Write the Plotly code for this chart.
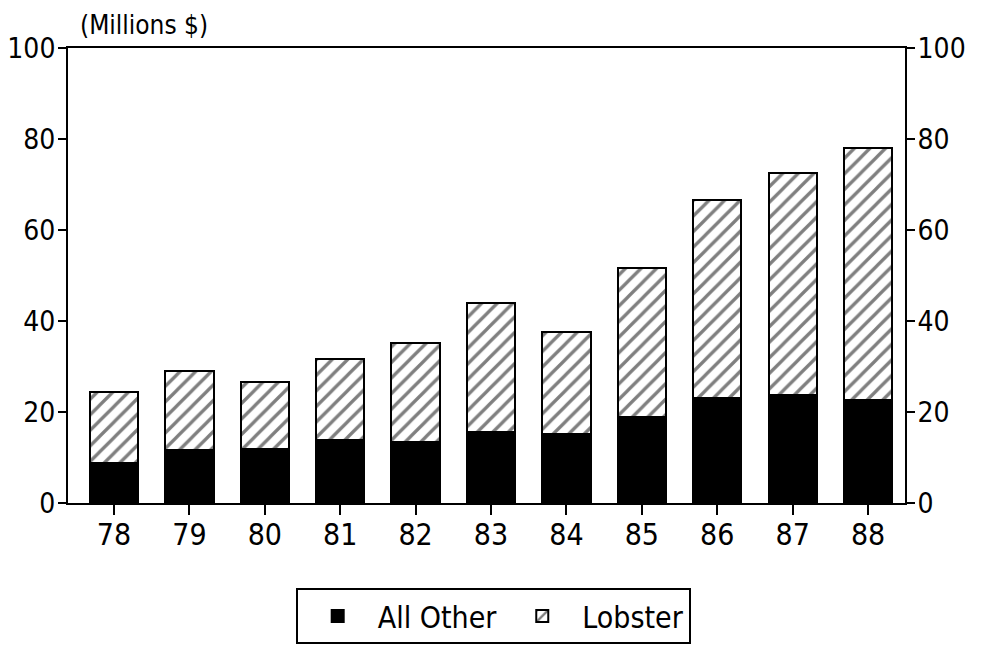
import plotly.graph_objects as go

years = ["78", "79", "80", "81", "82", "83", "84", "85", "86", "87", "88"]
all_other = [8.7, 11.6, 11.9, 13.8, 13.3, 15.6, 15.1, 18.8, 23.0, 23.8, 22.7]
totals = [24.4, 29.0, 26.7, 31.6, 35.2, 44.0, 37.5, 51.6, 66.7, 72.5, 78.0]
lobster = [round(t - o, 1) for t, o in zip(totals, all_other)]
y_ticks = [0, 20, 40, 60, 80, 100]

FONT = "DejaVu Sans Condensed, Liberation Sans Narrow, sans-serif"
xpos = list(range(len(years)))

fig = go.Figure()
fig.add_trace(go.Bar(
    x=xpos, y=all_other, name="All Other", width=0.64,
    marker=dict(color="black", line=dict(color="black", width=2)),
))
fig.add_trace(go.Bar(
    x=xpos, y=lobster, name="Lobster", width=0.64,
    marker=dict(color="white", line=dict(color="black", width=2),
                pattern=dict(shape="/", fgcolor="black", bgcolor="white",
                             size=11, solidity=0.3, fillmode="overlay")),
))
# invisible trace for the right-hand axis
fig.add_trace(go.Scatter(x=[xpos[0]], y=[0], yaxis="y2", mode="markers",
                         marker=dict(opacity=0), showlegend=False, hoverinfo="skip"))

fig.update_layout(
    width=967, height=643,
    margin=dict(l=60, r=70, t=40, b=148, autoexpand=False),
    barmode="stack",
    plot_bgcolor="white", paper_bgcolor="white",
    font=dict(family=FONT, size=28, color="black"),
    xaxis=dict(
        range=[-0.61, 10.49], tickmode="array", tickvals=xpos, ticktext=years,
        showline=True, linecolor="black", linewidth=2, mirror=True,
        ticks="outside", ticklen=10, tickwidth=2, tickcolor="black",
        showgrid=False, zeroline=False, tickfont=dict(size=30), automargin=False,
        ticklabelstandoff=-6,
    ),
    yaxis=dict(
        range=[0, 100], tickvals=y_ticks, showgrid=False, zeroline=False,
        showline=True, linecolor="black", linewidth=2,
        ticks="outside", ticklen=8, tickwidth=2, tickcolor="black",
        tickfont=dict(size=28), automargin=False, ticklabelstandoff=-3,
    ),
    yaxis2=dict(
        range=[0, 100], tickvals=y_ticks, overlaying="y", side="right",
        showgrid=False, zeroline=False,
        showline=True, linecolor="black", linewidth=2,
        ticks="outside", ticklen=8, tickwidth=2, tickcolor="black",
        tickfont=dict(size=28), automargin=False, ticklabelstandoff=-3,
    ),
    legend=dict(
        orientation="h", x=0.508, xanchor="center", y=-0.187, yanchor="top",
        bordercolor="black", borderwidth=2, font=dict(size=30),
        traceorder="normal", itemwidth=70,
    ),
    annotations=[dict(
        text="(Millions $)", xref="paper", yref="paper",
        x=0.012, y=1.05, xanchor="left", yanchor="middle",
        showarrow=False, font=dict(size=26),
    )],
    showlegend=True,
)

fig.write_html("out.html")
